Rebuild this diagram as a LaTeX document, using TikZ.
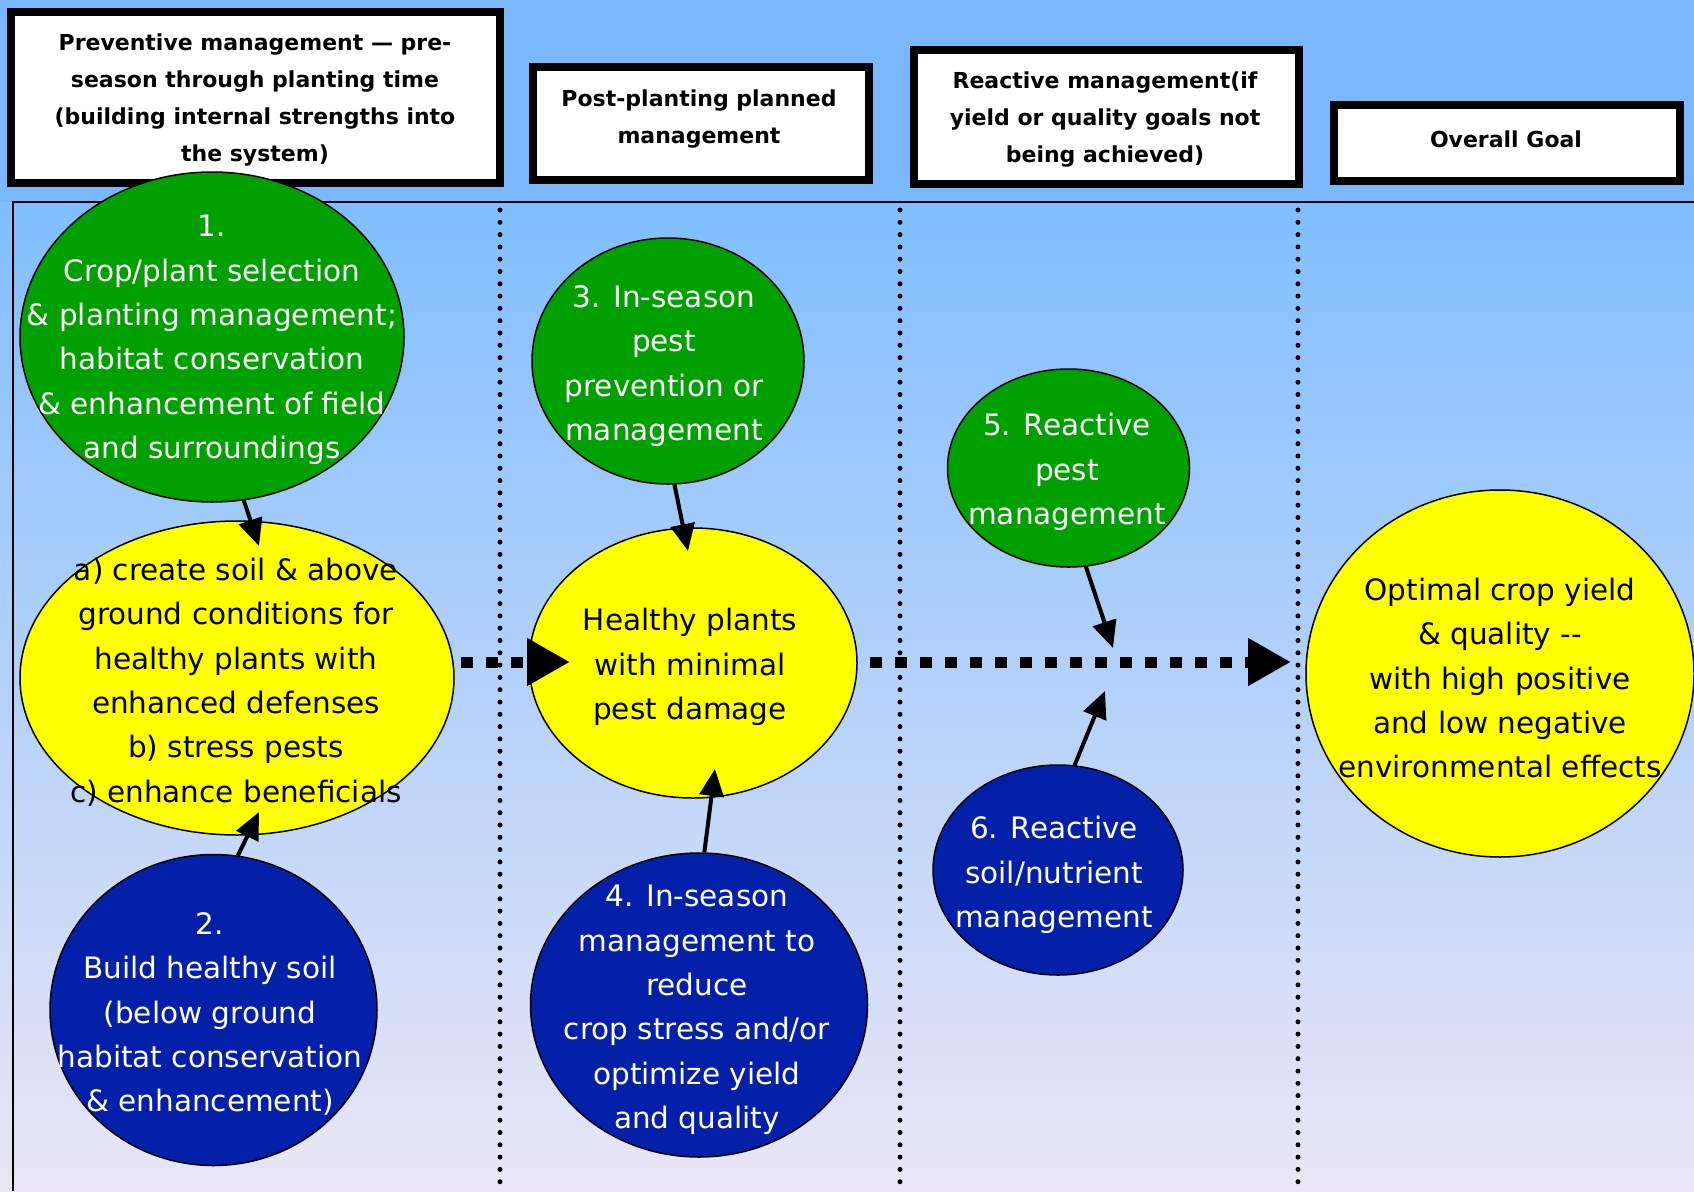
\documentclass[tikz,border=0pt]{standalone}
\usepackage{fontspec}
\setmainfont{DejaVu Sans}
\usetikzlibrary{arrows.meta,shapes.geometric}
\definecolor{bgtop}{RGB}{122,183,253}
\definecolor{bgftop}{RGB}{128,190,255}
\definecolor{bgmid}{RGB}{172,211,246}
\definecolor{bgbot}{RGB}{234,230,245}
\definecolor{egreen}{RGB}{0,160,0}
\definecolor{eblue}{RGB}{5,32,168}
\definecolor{eyellow}{RGB}{255,255,0}
\begin{document}
\begin{tikzpicture}[x=1pt,y=-1pt,
 hbox/.style={draw=black,line width=8pt,fill=white,inner sep=0pt},
 htext/.style={font=\fontsize{22}{37}\selectfont\bfseries,align=center,text=black,inner sep=0pt},
 ell/.style={ellipse,draw=black,line width=1.5pt,inner sep=0pt},
 etext/.style={font=\fontsize{29.5}{44.3}\selectfont,align=center,inner sep=0pt},
 arr/.style={line width=4pt,-{Triangle[length=27pt,width=24pt]}},
 dotarr/.style={line width=11pt,dash pattern=on 12pt off 13pt,-{Triangle[length=43pt,width=45pt]}},
 sepline/.style={line width=5pt,line cap=round,dash pattern=on 0pt off 12.3pt}]
\useasboundingbox (0,0) rectangle (1694,1191);
% background
\fill[bgtop] (0,0) rectangle (1694,202);
\shade[top color=bgftop,middle color=bgmid,bottom color=bgbot] (0,202) rectangle (1694,1191);
\draw[line width=1.5pt] (13,1191) -- (13,202) -- (1694,202);
% separators
\draw[sepline] (500,210) -- (500,1191);
\draw[sepline] (900,210) -- (900,1191);
\draw[sepline] (1298,210) -- (1298,1191);
% headers
\node[hbox,minimum width=489pt,minimum height=171pt] (h1) at (255.5,97.5) {};
\node[htext] (h1t) at (255,100.5) {Preventive management — pre-\\season through planting time\\(building internal strengths into\\the system)};
\node[hbox,minimum width=336pt,minimum height=113pt] (h2) at (701,123.5) {};
\node[htext] (h2t) at (699,119) {Post-planting planned\\management};
\node[hbox,minimum width=385pt,minimum height=134pt] (h3) at (1106.5,117) {};
\node[htext] (h3t) at (1105,120) {Reactive management(if\\yield or quality goals not\\being achieved)};
\node[hbox,minimum width=346pt,minimum height=76pt] (h4) at (1507,143) {};
\node[htext] (h4t) at (1506,139) {Overall Goal};
% ellipses
\node[ell,fill=egreen,minimum width=384pt,minimum height=330pt] (e1) at (212,337) {};
\node[etext,text=white] (e1t) at (212,340) {1.\\Crop/plant selection\\\& planting management;\\habitat conservation\\\& enhancement of field\\and surroundings};
\node[ell,fill=eyellow,minimum width=434pt,minimum height=314pt] (ya) at (237,678) {};
\node[etext,text=black] (yat) at (236,682) {a) create soil \& above\\ground conditions for\\healthy plants with\\enhanced defenses\\b) stress pests\\c) enhance beneficials};
\node[ell,fill=eblue,minimum width=327pt,minimum height=311pt] (e2) at (213.5,1010) {};
\node[etext,text=white] (e2t) at (210,1014) {2.\\Build healthy soil\\(below ground\\habitat conservation\\\& enhancement)};
\node[ell,fill=egreen,minimum width=272pt,minimum height=246pt] (e3) at (668,361) {};
\node[etext,text=white] (e3t) at (664,366) {3. In-season\\pest\\prevention or\\management};
\node[ell,fill=eyellow,minimum width=328pt,minimum height=270pt] (hp) at (693,663) {};
\node[etext,text=black] (hpt) at (690,667) {Healthy plants\\with minimal\\pest damage};
\node[ell,fill=eblue,minimum width=337pt,minimum height=304pt] (e4) at (699,1005) {};
\node[etext,text=white] (e4t) at (697,1010) {4. In-season\\management to\\reduce\\crop stress and/or\\optimize yield\\and quality};
\node[ell,fill=egreen,minimum width=242pt,minimum height=198pt] (e5) at (1068.5,468) {};
\node[etext,text=white] (e5t) at (1067,472) {5. Reactive\\pest\\management};
\node[ell,fill=eblue,minimum width=250pt,minimum height=210pt] (e6) at (1058,870) {};
\node[etext,text=white] (e6t) at (1054,875) {6. Reactive\\soil/nutrient\\management};
\node[ell,fill=eyellow,minimum width=388pt,minimum height=367pt] (goal) at (1500,673.5) {};
\node[etext,text=black] (goalt) at (1500,678) {Optimal crop yield\\\& quality -{}-\\with high positive\\and low negative\\environmental effects};
% arrow targets
\coordinate (t1) at (259,546);
\coordinate (t2) at (259,812);
\coordinate (t3) at (688,551);
\coordinate (t4) at (715,769);
\coordinate (t5) at (1113,648);
\coordinate (t6) at (1105,691);
\coordinate (d1s) at (461,662);
\coordinate (d1e) at (570,662);
\coordinate (d2s) at (870,662);
\coordinate (d2e) at (1291,662);
% arrows
\draw[arr] (e1.-79) -- (t1);
\draw[arr] (e2.81) -- (t2);
\draw[arr] (e3.-87) -- (t3);
\draw[arr] (e4.88) -- (t4);
\draw[arr] (e5.-80) -- (t5);
\draw[arr] (e6.81) -- (t6);
\draw[dotarr] (d1s) -- (d1e);
\draw[dotarr] (d2s) -- (d2e);
\end{tikzpicture}
\end{document}
